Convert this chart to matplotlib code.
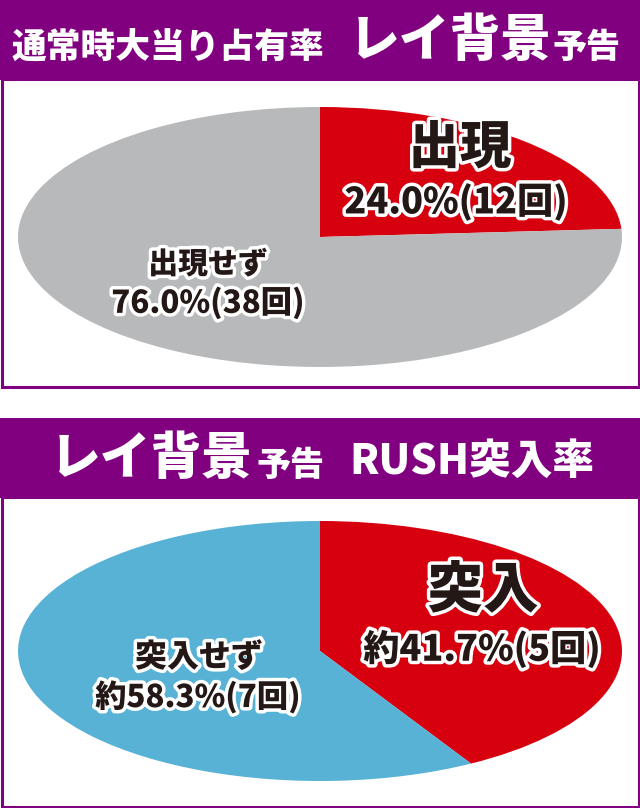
import matplotlib
matplotlib.use("Agg")
import matplotlib.pyplot as plt
from matplotlib.patches import Rectangle
import matplotlib.patheffects as pe

# data
LABELS_1 = ["出現", "出現せず"]
COUNTS_1 = [12, 38]
PCT_1 = ["24.0%", "76.0%"]
LABELS_2 = ["突入", "突入せず"]
COUNTS_2 = [5, 7]
PCT_2 = ["約41.7%", "約58.3%"]

PURPLE = "#800080"
RED = "#D7000F"
GRAY = "#B8B9BB"
BLUE = "#58B2D6"
INK = "#231815"
FONT = ["Noto Sans CJK JP", "DejaVu Sans"]

W, H = 640, 808
fig = plt.figure(figsize=(W / 100, H / 100), dpi=100)
fig.patch.set_facecolor("white")

bg = fig.add_axes([0, 0, 1, 1], zorder=0)
bg.set_xlim(0, W); bg.set_ylim(H, 0); bg.set_axis_off()
top = fig.add_axes([0, 0, 1, 1], zorder=3)
top.set_xlim(0, W); top.set_ylim(H, 0); top.set_axis_off()
top.patch.set_alpha(0)

# headers and framed boxes
for y0, y1, box_bottom in [(0, 80, 387), (418, 498, 806.5)]:
    bg.add_patch(Rectangle((0, y0), W, y1 - y0, color=PURPLE, lw=0))
    bg.add_patch(Rectangle((1.5, y1 - 1), W - 3, box_bottom - y1 + 1,
                           facecolor="white", edgecolor=PURPLE, lw=2.2))


def htext(x, y, s, size):
    top.text(x, y, s, color="white", fontsize=size, fontweight=900,
             family=FONT, ha="left", va="center")


htext(11, 47, "通常時大当り占有率", 25)
htext(349, 41, "レイ背景", 36.5)
htext(553, 47, "予告", 24.5)

htext(50, 459, "レイ背景", 36.5)
htext(256, 465, "予告", 24.5)
htext(349, 462, "RUSH突入率", 30)


def pie(ybox, counts, colors):
    x0, x1 = 18, 622
    ya, yb = ybox
    ax = fig.add_axes([x0 / W, 1 - yb / H, (x1 - x0) / W, (yb - ya) / H], zorder=1)
    ax.pie(counts, colors=colors, startangle=90, counterclock=False,
           wedgeprops=dict(linewidth=0))
    ax.set_aspect("auto")
    ax.set_xlim(-1, 1); ax.set_ylim(-1, 1)
    ax.set_axis_off()


pie((107, 367), COUNTS_1, [RED, GRAY])
pie((521, 781), COUNTS_2, [RED, BLUE])

stroke = [pe.withStroke(linewidth=5, foreground="white")]


def label(x, y, s, size):
    top.text(x, y, s, color=INK, fontsize=size, fontweight=900, family=FONT,
             ha="center", va="center", path_effects=stroke)


label(460, 148, LABELS_1[0], 37)
label(456, 202, f"{PCT_1[0]}({COUNTS_1[0]}回)", 26)
label(208, 264, LABELS_1[1], 21.5)
label(208, 303, f"{PCT_1[1]}({COUNTS_1[1]}回)", 22.5)

label(483, 591, LABELS_2[0], 40)
label(482, 649, f"{PCT_2[0]}({COUNTS_2[0]}回)", 26)
label(199, 657, LABELS_2[1], 23)
label(198, 697, f"{PCT_2[1]}({COUNTS_2[1]}回)", 22.5)

fig.savefig("out.png", dpi=100, facecolor="white")
